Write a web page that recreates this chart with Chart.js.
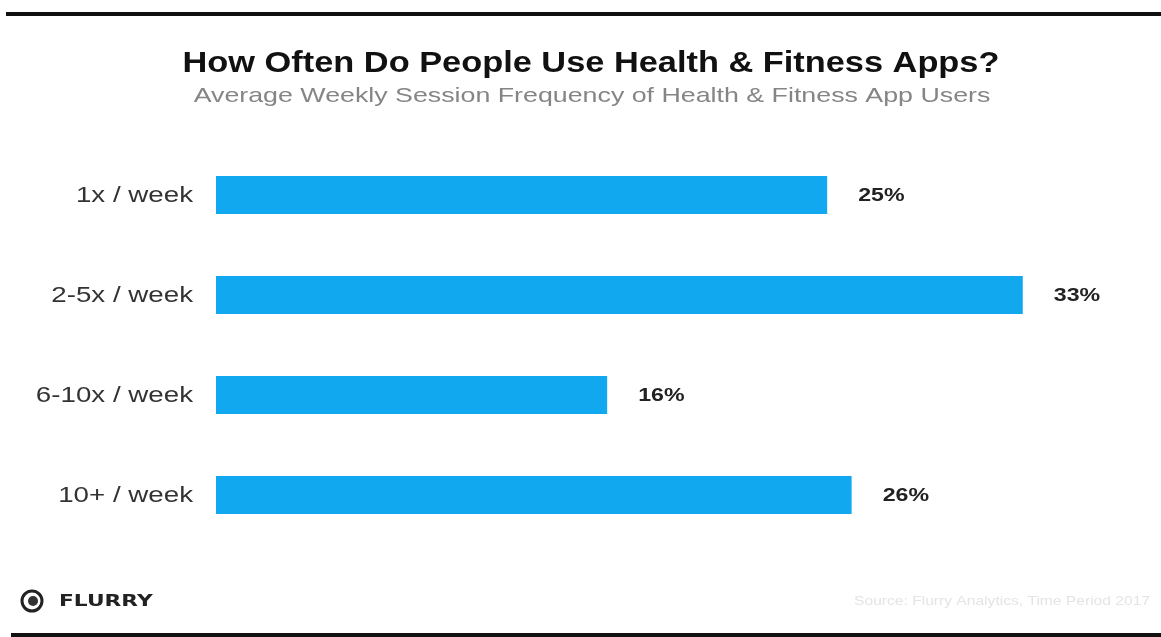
<!DOCTYPE html>
<html>
<head>
<meta charset="utf-8">
<script src="https://cdn.jsdelivr.net/npm/chart.js@4"></script>
<style>
  html, body { margin: 0; padding: 0; background: #fff; }
  #wrap { width: 1161px; height: 637px; position: relative; }
</style>
</head>
<body>
<div id="wrap"><canvas id="chart"></canvas></div>
<script>
// chart data
const categories = ['1x / week', '2-5x / week', '6-10x / week', '10+ / week'];
const shares = [25, 33, 16, 26];
const titleText = 'How Often Do People Use Health & Fitness Apps?';
const subtitleText = 'Average Weekly Session Frequency of Health & Fitness App Users';
const sourceText = 'Source: Flurry Analytics, Time Period 2017';

const FONT = '"Liberation Sans", Arial, sans-serif';

// the original art is a little wider than the font, so text is drawn stretched
function wideText(ctx, txt, x, y, sx, align) {
  ctx.save();
  ctx.translate(x, y);
  ctx.scale(sx, 1);
  ctx.textAlign = align;
  ctx.fillText(txt, 0, 0);
  ctx.restore();
}

const decor = {
  id: 'decor',
  afterDatasetsDraw(chart) {
    const ctx = chart.ctx;
    const meta = chart.getDatasetMeta(0);
    const yScale = chart.scales.y;
    ctx.save();
    ctx.textBaseline = 'middle';

    // category labels
    ctx.font = '22px ' + FONT;
    ctx.fillStyle = '#333';
    categories.forEach((c, i) => {
      wideText(ctx, c, yScale.right - 23, yScale.getPixelForTick(i) + 1, 1.26, 'right');
    });

    // value labels
    ctx.font = 'bold 19px ' + FONT;
    ctx.fillStyle = '#222';
    meta.data.forEach((bar, i) => {
      wideText(ctx, shares[i] + '%', bar.x + 31, bar.y + 1, 1.22, 'left');
    });
    ctx.restore();
  },
  afterDraw(chart) {
    const ctx = chart.ctx;
    ctx.save();
    // top + bottom rules
    ctx.fillStyle = '#111';
    ctx.fillRect(6, 12, 1155, 4);
    ctx.fillRect(11, 633, 1150, 4);

    // title + subtitle
    ctx.textBaseline = 'alphabetic';
    ctx.font = 'bold 30px ' + FONT;
    ctx.fillStyle = '#111';
    wideText(ctx, titleText, 591, 72, 1.145, 'center');
    ctx.font = '21px ' + FONT;
    ctx.fillStyle = '#858585';
    wideText(ctx, subtitleText, 592, 102, 1.275, 'center');

    // flurry logo
    ctx.lineWidth = 3;
    ctx.strokeStyle = '#222';
    ctx.beginPath();
    ctx.arc(32, 601, 10, 0, Math.PI * 2);
    ctx.stroke();
    ctx.beginPath();
    ctx.arc(33, 601, 5, 0, Math.PI * 2);
    ctx.fillStyle = '#333';
    ctx.fill();
    ctx.font = 'bold 15px "DejaVu Sans", sans-serif';
    ctx.fillStyle = '#222';
    ctx.textBaseline = 'middle';
    wideText(ctx, 'FLURRY', 59, 602, 1.45, 'left');

    // faint source line
    ctx.font = '13px ' + FONT;
    ctx.fillStyle = '#e4e4e4';
    wideText(ctx, sourceText, 1150, 601, 1.2, 'right');
    ctx.restore();
  }
};

new Chart(document.getElementById('chart'), {
  type: 'bar',
  data: {
    labels: categories,
    datasets: [{
      data: shares,
      backgroundColor: '#12a8ef',
      borderWidth: 0,
      barPercentage: 0.38,
      categoryPercentage: 1
    }]
  },
  options: {
    indexAxis: 'y',
    responsive: true,
    maintainAspectRatio: false,
    animation: false,
    layout: { padding: { top: 145, right: 16, bottom: 92, left: 0 } },
    plugins: {
      legend: { display: false },
      tooltip: { enabled: false },
      title: { display: false },
      subtitle: { display: false }
    },
    scales: {
      x: { display: false, min: 0, max: 38 },
      y: {
        grid: { display: false, drawTicks: false },
        border: { display: false },
        afterFit(scale) { scale.width = 216; },
        ticks: { display: false }
      }
    }
  },
  plugins: [decor]
});
</script>
</body>
</html>
